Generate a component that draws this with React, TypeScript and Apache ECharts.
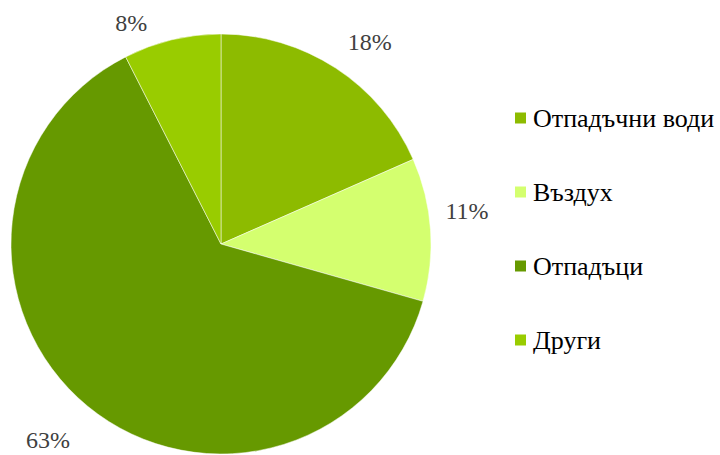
import React, { useEffect, useRef } from "react";
import * as echarts from "echarts";

const categories = ["Отпадъчни води", "Въздух", "Отпадъци", "Други"];
const values = [18.4, 11.0, 63.1, 7.5];
const colors = ["#8DBB00", "#D4FF6F", "#669900", "#99CC00"];
const labelOffsets: number[][] = [[-4, -9], [-10, -17], [0, 18], [-15, 3]];

export default function App() {
  const ref = useRef<HTMLDivElement>(null);
  useEffect(() => {
    document.body.style.margin = "0";
    const chart = echarts.init(ref.current!, null, { renderer: "svg" });
    const font = "Liberation Serif";
    chart.setOption({
      animation: false,
      backgroundColor: "#ffffff",
      legend: {
        orient: "vertical",
        left: 508,
        top: 100,
        padding: 5,
        itemWidth: 13,
        itemHeight: 13,
        itemGap: 48,
        icon: "rect",
        data: categories,
        textStyle: { fontFamily: font, fontSize: 26, color: "#000000", padding: [0, 0, 0, 1] },
      },
      series: [
        {
          type: "pie",
          center: [221, 244],
          radius: 210,
          startAngle: 90,
          clockwise: true,
          avoidLabelOverlap: false,
          itemStyle: { borderColor: "#ffffff", borderWidth: 0.5 },
          label: {
            show: true,
            position: "outside",
            formatter: (p: any) => Math.round(p.value) + "%",
            fontFamily: font,
            fontSize: 24,
            color: "#404040",
          },
          labelLine: { show: false, length: 20, length2: 0 },
          data: categories.map((name, i) => ({
            name,
            value: values[i],
            itemStyle: { color: colors[i] },
            label: { offset: labelOffsets[i] },
          })),
        },
      ],
    });
    return () => chart.dispose();
  }, []);
  return <div ref={ref} style={{ width: 720, height: 455 }} />;
}
